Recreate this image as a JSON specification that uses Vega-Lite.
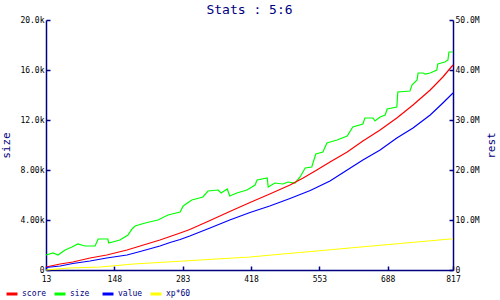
{
  "$schema": "https://vega.github.io/schema/vega-lite/v6.json",
  "width": 407,
  "height": 250,
  "autosize": {"type": "none"},
  "padding": {"left": 46, "top": 20, "right": 47, "bottom": 30},
  "background": "white",
  "title": {"text": "Stats : 5:6", "font": "DejaVu Sans Mono", "fontSize": 13, "fontWeight": "normal", "color": "#000080", "offset": 5, "dy": 6, "anchor": "middle"},
  "config": {
    "view": {"stroke": null},
    "axis": {"grid": false, "domainColor": "#000080", "domainWidth": 1.5, "tickColor": "#000080", "tickWidth": 1.5, "tickSize": -4, "labelFont": "DejaVu Sans Mono", "labelFontSize": 8, "labelColor": "black", "titleFont": "DejaVu Sans Mono", "titleFontSize": 11, "titleFontWeight": "normal", "titleColor": "#000080"}
  },
  "data": {"values": [
    {"x": 13, "s": "size", "v": 1200}, {"x": 27, "s": "size", "v": 1360}, {"x": 37, "s": "size", "v": 1200}, {"x": 45, "s": "size", "v": 1440}, {"x": 51, "s": "size", "v": 1600}, {"x": 64, "s": "size", "v": 1840}, {"x": 76, "s": "size", "v": 2080}, {"x": 90, "s": "size", "v": 1920}, {"x": 110, "s": "size", "v": 1920}, {"x": 116, "s": "size", "v": 2480}, {"x": 135, "s": "size", "v": 2480}, {"x": 137, "s": "size", "v": 2160}, {"x": 159, "s": "size", "v": 2400}, {"x": 175, "s": "size", "v": 2800}, {"x": 183, "s": "size", "v": 3280}, {"x": 189, "s": "size", "v": 3520}, {"x": 209, "s": "size", "v": 3760}, {"x": 234, "s": "size", "v": 4000}, {"x": 254, "s": "size", "v": 4400}, {"x": 278, "s": "size", "v": 4640}, {"x": 284, "s": "size", "v": 5120}, {"x": 301, "s": "size", "v": 5600}, {"x": 323, "s": "size", "v": 5840}, {"x": 333, "s": "size", "v": 6320}, {"x": 353, "s": "size", "v": 6400}, {"x": 359, "s": "size", "v": 6160}, {"x": 371, "s": "size", "v": 6480}, {"x": 376, "s": "size", "v": 5920}, {"x": 390, "s": "size", "v": 6160}, {"x": 410, "s": "size", "v": 6400}, {"x": 426, "s": "size", "v": 6800}, {"x": 430, "s": "size", "v": 7200}, {"x": 450, "s": "size", "v": 7360}, {"x": 452, "s": "size", "v": 6640}, {"x": 465, "s": "size", "v": 6960}, {"x": 481, "s": "size", "v": 6880}, {"x": 491, "s": "size", "v": 7040}, {"x": 505, "s": "size", "v": 6960}, {"x": 515, "s": "size", "v": 7440}, {"x": 525, "s": "size", "v": 8160}, {"x": 538, "s": "size", "v": 8240}, {"x": 546, "s": "size", "v": 9280}, {"x": 560, "s": "size", "v": 9440}, {"x": 568, "s": "size", "v": 10160}, {"x": 574, "s": "size", "v": 10240}, {"x": 588, "s": "size", "v": 10400}, {"x": 608, "s": "size", "v": 10720}, {"x": 619, "s": "size", "v": 11440}, {"x": 639, "s": "size", "v": 11680}, {"x": 643, "s": "size", "v": 12160}, {"x": 659, "s": "size", "v": 12160}, {"x": 663, "s": "size", "v": 11920}, {"x": 673, "s": "size", "v": 12240}, {"x": 683, "s": "size", "v": 12400}, {"x": 687, "s": "size", "v": 12880}, {"x": 706, "s": "size", "v": 13040}, {"x": 708, "s": "size", "v": 14240}, {"x": 732, "s": "size", "v": 14320}, {"x": 736, "s": "size", "v": 14800}, {"x": 746, "s": "size", "v": 15200}, {"x": 748, "s": "size", "v": 15760}, {"x": 758, "s": "size", "v": 15760}, {"x": 762, "s": "size", "v": 15680}, {"x": 772, "s": "size", "v": 15760}, {"x": 785, "s": "size", "v": 16000}, {"x": 787, "s": "size", "v": 16480}, {"x": 801, "s": "size", "v": 16640}, {"x": 807, "s": "size", "v": 16800}, {"x": 809, "s": "size", "v": 17440}, {"x": 817, "s": "size", "v": 17440},
    {"x": 13, "s": "score", "v": 600000}, {"x": 41, "s": "score", "v": 1200000}, {"x": 66, "s": "score", "v": 1600000}, {"x": 100, "s": "score", "v": 2400000}, {"x": 133, "s": "score", "v": 3000000}, {"x": 173, "s": "score", "v": 4000000}, {"x": 199, "s": "score", "v": 4800000}, {"x": 238, "s": "score", "v": 6000000}, {"x": 258, "s": "score", "v": 6700000}, {"x": 278, "s": "score", "v": 7400000}, {"x": 297, "s": "score", "v": 8100000}, {"x": 337, "s": "score", "v": 9900000}, {"x": 376, "s": "score", "v": 11700000}, {"x": 416, "s": "score", "v": 13500000}, {"x": 455, "s": "score", "v": 15200000}, {"x": 495, "s": "score", "v": 17000000}, {"x": 521, "s": "score", "v": 18400000}, {"x": 548, "s": "score", "v": 20000000}, {"x": 574, "s": "score", "v": 21600000}, {"x": 608, "s": "score", "v": 23600000}, {"x": 639, "s": "score", "v": 25800000}, {"x": 673, "s": "score", "v": 28000000}, {"x": 706, "s": "score", "v": 30400000}, {"x": 738, "s": "score", "v": 33000000}, {"x": 772, "s": "score", "v": 36000000}, {"x": 797, "s": "score", "v": 38600000}, {"x": 817, "s": "score", "v": 41000000},
    {"x": 13, "s": "value", "v": 500000}, {"x": 41, "s": "value", "v": 800000}, {"x": 66, "s": "value", "v": 1300000}, {"x": 100, "s": "value", "v": 1800000}, {"x": 133, "s": "value", "v": 2400000}, {"x": 173, "s": "value", "v": 3000000}, {"x": 199, "s": "value", "v": 3700000}, {"x": 238, "s": "value", "v": 4800000}, {"x": 258, "s": "value", "v": 5500000}, {"x": 278, "s": "value", "v": 6100000}, {"x": 297, "s": "value", "v": 6800000}, {"x": 337, "s": "value", "v": 8400000}, {"x": 376, "s": "value", "v": 10000000}, {"x": 416, "s": "value", "v": 11500000}, {"x": 455, "s": "value", "v": 12800000}, {"x": 495, "s": "value", "v": 14300000}, {"x": 535, "s": "value", "v": 15900000}, {"x": 574, "s": "value", "v": 17800000}, {"x": 608, "s": "value", "v": 20000000}, {"x": 639, "s": "value", "v": 22000000}, {"x": 673, "s": "value", "v": 24000000}, {"x": 706, "s": "value", "v": 26400000}, {"x": 738, "s": "value", "v": 28400000}, {"x": 772, "s": "value", "v": 31000000}, {"x": 797, "s": "value", "v": 33400000}, {"x": 817, "s": "value", "v": 35400000},
    {"x": 13, "s": "xp*60", "v": 0}, {"x": 58, "s": "xp*60", "v": 400000}, {"x": 120, "s": "xp*60", "v": 600000}, {"x": 186, "s": "xp*60", "v": 1200000}, {"x": 253, "s": "xp*60", "v": 1600000}, {"x": 318, "s": "xp*60", "v": 2000000}, {"x": 416, "s": "xp*60", "v": 2600000}, {"x": 481, "s": "xp*60", "v": 3200000}, {"x": 548, "s": "xp*60", "v": 3800000}, {"x": 613, "s": "xp*60", "v": 4400000}, {"x": 679, "s": "xp*60", "v": 5000000}, {"x": 746, "s": "xp*60", "v": 5600000}, {"x": 811, "s": "xp*60", "v": 6200000}, {"x": 817, "s": "xp*60", "v": 6200000}
  ]},
  "encoding": {
    "x": {"field": "x", "type": "quantitative", "scale": {"domain": [13, 817], "nice": false, "zero": false}, "axis": {"title": null, "values": [13, 148, 283, 418, 553, 688, 817], "labelPadding": 9, "labelFlush": false}},
    "color": {"field": "s", "type": "nominal", "scale": {"domain": ["score", "size", "value", "xp*60"], "range": ["#ff0000", "#00ff00", "#0000ff", "#ffff00"]}, "legend": {"title": null, "orient": "none", "legendX": -41, "legendY": 267, "direction": "horizontal", "gridAlign": "all", "symbolType": "stroke", "symbolSize": 120, "symbolStrokeWidth": 3, "labelOffset": 3, "labelFont": "DejaVu Sans Mono", "labelFontSize": 8, "labelColor": "#000080", "columnPadding": 1, "symbolOffset": 0}}
  },
  "layer": [
    {
      "transform": [{"filter": "datum.s == 'size'"}],
      "mark": {"type": "line", "strokeWidth": 1.2},
      "encoding": {
        "y": {"field": "v", "type": "quantitative", "scale": {"domain": [0, 20000], "nice": false}, "axis": {"orient": "left", "title": "size", "values": [0, 4000, 8000, 12000, 16000, 20000], "labelExpr": "datum.value == 0 ? '0' : format(datum.value, '.3s')", "labelPadding": 6, "titlePadding": 8}}
      }
    },
    {
      "transform": [{"filter": "datum.s != 'size'"}],
      "mark": {"type": "line", "strokeWidth": 1.2},
      "encoding": {
        "y": {"field": "v", "type": "quantitative", "scale": {"domain": [0, 50000000], "nice": false}, "axis": {"orient": "right", "title": "rest", "titleAngle": 270, "values": [0, 10000000, 20000000, 30000000, 40000000, 50000000], "labelExpr": "datum.value == 0 ? '0' : format(datum.value, '.3s')", "labelPadding": 6, "titlePadding": 17}}
      }
    }
  ],
  "resolve": {"scale": {"y": "independent"}}
}
